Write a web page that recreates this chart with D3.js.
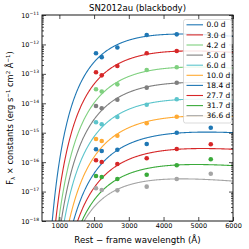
<!DOCTYPE html>
<html>
<head>
<meta charset="utf-8">
<script src="https://cdn.jsdelivr.net/npm/d3@7"></script>
<style>
  body { margin: 0; background: #fff; }
  svg { display: block; font-family: "DejaVu Sans", sans-serif; }
</style>
</head>
<body>
<div id="chart"></div>
<script>
// epochs shown in the legend
const epochs = ['0.0 d', '3.0 d', '4.2 d', '5.0 d', '6.0 d', '10.0 d', '18.4 d', '27.7 d', '31.7 d', '36.6 d']
const colors = ['#1f77b4', '#d62728', '#7fd07f', '#7f7f7f', '#5cc5cc', '#ffaa33', '#1f77b4', '#d62728', '#3aaa3a', '#a5a5a5']

// rest-frame band centres (A)
const bandWave = [2055, 2220, 2670, 3515, 4380, 5360]

// photometry (flux x constant), null = hidden behind legend
const flux00 = [5.0e-13, 3.7e-13, 7.9e-13, 2.1e-12, 2.2e-12, null]
const flux30 = [1.13e-13, 8.9e-14, 1.85e-13, 5.0e-13, 6.0e-13, null]
const flux42 = [3.0e-14, 2.5e-14, 4.4e-14, 1.35e-13, 1.67e-13, null]
const flux50 = [8.1e-15, 6.8e-15, 1.32e-14, 3.4e-14, 5.0e-14, null]
const flux60 = [2.26e-15, 1.93e-15, 3.42e-15, 8.95e-15, 1.37e-14, null]
const flux100 = [6.1e-16, 5.2e-16, 7.9e-16, 2.09e-15, 3.5e-15, null]
const flux184 = [2.73e-16, 2.39e-16, 2.65e-16, 4.14e-16, 1.0e-15, 1.48e-15]
const flux277 = [1.16e-16, 1.01e-16, 8.6e-17, 1.35e-16, 2.8e-16, 4.05e-16]
const flux317 = [3.38e-17, 3.13e-17, 2.67e-17, 3.75e-17, 7.8e-17, 1.25e-16]
const flux366 = [1.29e-17, 1.13e-17, 1.10e-17, 1.47e-17, 2.67e-17, 4.05e-17]
const fluxes = [flux00, flux30, flux42, flux50, flux60, flux100, flux184, flux277, flux317, flux366]

// blackbody fit parameters: temperature (K) and peak flux
const bbTemp = [6400, 6030, 5850, 5780, 5750, 5550, 5530, 5650, 5870, 6400]
const bbPeak = [2.25e-12, 6.0e-13, 1.7e-13, 5.1e-14, 1.38e-14, 3.7e-15, 1.05e-15, 2.9e-16, 8.3e-17, 2.7e-17]

const xTicks = [1000, 2000, 3000, 4000, 5000, 6000]
const yTicks = [-18, -17, -16, -15, -14, -13, -12, -11]

const width = 249, height = 249
const margin = {left: 42, right: 16, top: 15, bottom: 28}

const svg = d3.select('#chart').append('svg')
  .attr('width', width)
  .attr('height', height)

const xScale = d3.scaleLinear().domain([500, 6000]).range([margin.left, width - margin.right])
const yScale = d3.scaleLog().domain([1e-18, 1e-11]).range([height - margin.bottom, margin.top])

// planck shape, normalised to 1 at the peak
const hck = 1.4388e8
function planck(lam, T) {
  return Math.pow(lam, -5) / Math.expm1(hck / (lam * T))
}
function bbCurve(i) {
  let T = bbTemp[i]
  let lamPeak = 2.898e7 / T
  let norm = bbPeak[i] / planck(lamPeak, T)
  return d3.range(500, 6001, 10).map(l => [l, norm * planck(l, T)])
}

svg.append('clipPath').attr('id', 'clip')
  .append('rect')
  .attr('x', margin.left).attr('y', margin.top)
  .attr('width', width - margin.left - margin.right)
  .attr('height', height - margin.top - margin.bottom)

let plot = svg.append('g').attr('clip-path', 'url(#clip)')

let line = d3.line()
  .x(d => xScale(d[0]))
  .y(d => yScale(Math.max(d[1], 1e-25)))

epochs.forEach((e, i) => {
  plot.append('path')
    .attr('d', line(bbCurve(i)))
    .attr('fill', 'none')
    .attr('stroke', colors[i])
    .attr('stroke-width', 1.1)

  plot.selectAll('.pt' + i)
    .data(fluxes[i].map((f, j) => ({w: bandWave[j], f: f})).filter(d => d.f !== null))
    .enter()
    .append('circle')
    .attr('cx', d => xScale(d.w))
    .attr('cy', d => yScale(d.f))
    .attr('r', 2.3)
    .attr('fill', colors[i])
})

// axes
let minorY = []
for (let p = -18; p < -11; p++) {
  for (let k = 2; k <= 9; k++) minorY.push(k * Math.pow(10, p))
}

let xAxis = d3.axisBottom(xScale).tickValues(xTicks).tickSize(-4).tickPadding(2).tickFormat(d3.format('d'))
let xAxisTop = d3.axisTop(xScale).tickValues(xTicks).tickSize(-4).tickFormat('')
let yAxis = d3.axisLeft(yScale).tickValues(yTicks.map(p => Math.pow(10, p))).tickSize(-4).tickPadding(3).tickFormat('')
let yAxisR = d3.axisRight(yScale).tickValues(yTicks.map(p => Math.pow(10, p))).tickSize(-4).tickFormat('')
let yMinor = d3.axisLeft(yScale).tickValues(minorY).tickSize(-2).tickFormat('')
let yMinorR = d3.axisRight(yScale).tickValues(minorY).tickSize(-2).tickFormat('')

function styleAxis(g) {
  g.select('.domain').remove()
  g.selectAll('line').attr('stroke', '#000').attr('stroke-width', 0.7)
  g.selectAll('text').attr('fill', '#000')
}

svg.append('g').attr('transform', `translate(0,${height - margin.bottom})`).call(xAxis).call(styleAxis)
  .selectAll('text').attr('font-size', 6.5).attr('font-family', 'DejaVu Sans')
svg.append('g').attr('transform', `translate(0,${margin.top})`).call(xAxisTop).call(styleAxis)
svg.append('g').attr('transform', `translate(${width - margin.right},0)`).call(yAxisR).call(styleAxis)
svg.append('g').attr('transform', `translate(${margin.left},0)`).call(yMinor).call(styleAxis)
svg.append('g').attr('transform', `translate(${width - margin.right},0)`).call(yMinorR).call(styleAxis)

let yg = svg.append('g').attr('transform', `translate(${margin.left},0)`).call(yAxis).call(styleAxis)
yg.selectAll('.tick text')
  .attr('font-family', 'DejaVu Sans')
  .attr('font-size', 6.5)
  .each(function(d, i) {
    let t = d3.select(this)
    t.text(null)
    t.append('tspan').text('10')
    t.append('tspan').attr('font-size', 4.5).attr('dy', -3).text('\u2212' + Math.abs(yTicks[i]))
  })

// frame
svg.append('rect')
  .attr('x', margin.left).attr('y', margin.top)
  .attr('width', width - margin.left - margin.right)
  .attr('height', height - margin.top - margin.bottom)
  .attr('fill', 'none').attr('stroke', '#000').attr('stroke-width', 0.9)

// legend
let lg = svg.append('g')
lg.append('rect')
  .attr('x', 183.5).attr('y', 19.5).attr('width', 48).attr('height', 103.5)
  .attr('rx', 2).attr('fill', '#fff').attr('fill-opacity', 0.85)
  .attr('stroke', '#ccc').attr('stroke-width', 0.7)
epochs.forEach((e, i) => {
  let y = 24.8 + i * 10.1
  lg.append('line')
    .attr('x1', 186.5).attr('x2', 203)
    .attr('y1', y).attr('y2', y)
    .attr('stroke', colors[i]).attr('stroke-width', 1.1)
  lg.append('text')
    .attr('x', 206.5).attr('y', y + 2.6)
    .attr('font-size', 7.5)
    .text(e)
})

// labels
svg.append('text')
  .attr('x', (margin.left + width - margin.right) / 2).attr('y', 11)
  .attr('text-anchor', 'middle').attr('font-size', 8.5)
  .text('SN2012au (blackbody)')

svg.append('text')
  .attr('x', (margin.left + width - margin.right) / 2).attr('y', 243)
  .attr('text-anchor', 'middle').attr('font-size', 8.7)
  .text('Rest \u2212 frame wavelength (\u00c5)')

let yl = svg.append('text')
  .attr('transform', `translate(13,${(margin.top + height - margin.bottom) / 2}) rotate(-90)`)
  .attr('text-anchor', 'middle').attr('font-size', 8.3)
yl.append('tspan').text('F')
yl.append('tspan').attr('font-size', 5.5).attr('dy', 2).text('\u03bb')
yl.append('tspan').attr('dy', -2).text(' \u00d7 constants (erg s')
yl.append('tspan').attr('font-size', 5.5).attr('dy', -3).text('\u22121')
yl.append('tspan').attr('dy', 3).text(' cm')
yl.append('tspan').attr('font-size', 5.5).attr('dy', -3).text('2')
yl.append('tspan').attr('dy', 3).text(' \u00c5')
yl.append('tspan').attr('font-size', 5.5).attr('dy', -3).text('\u22121')
yl.append('tspan').attr('dy', 3).text(')')
</script>
</body>
</html>
